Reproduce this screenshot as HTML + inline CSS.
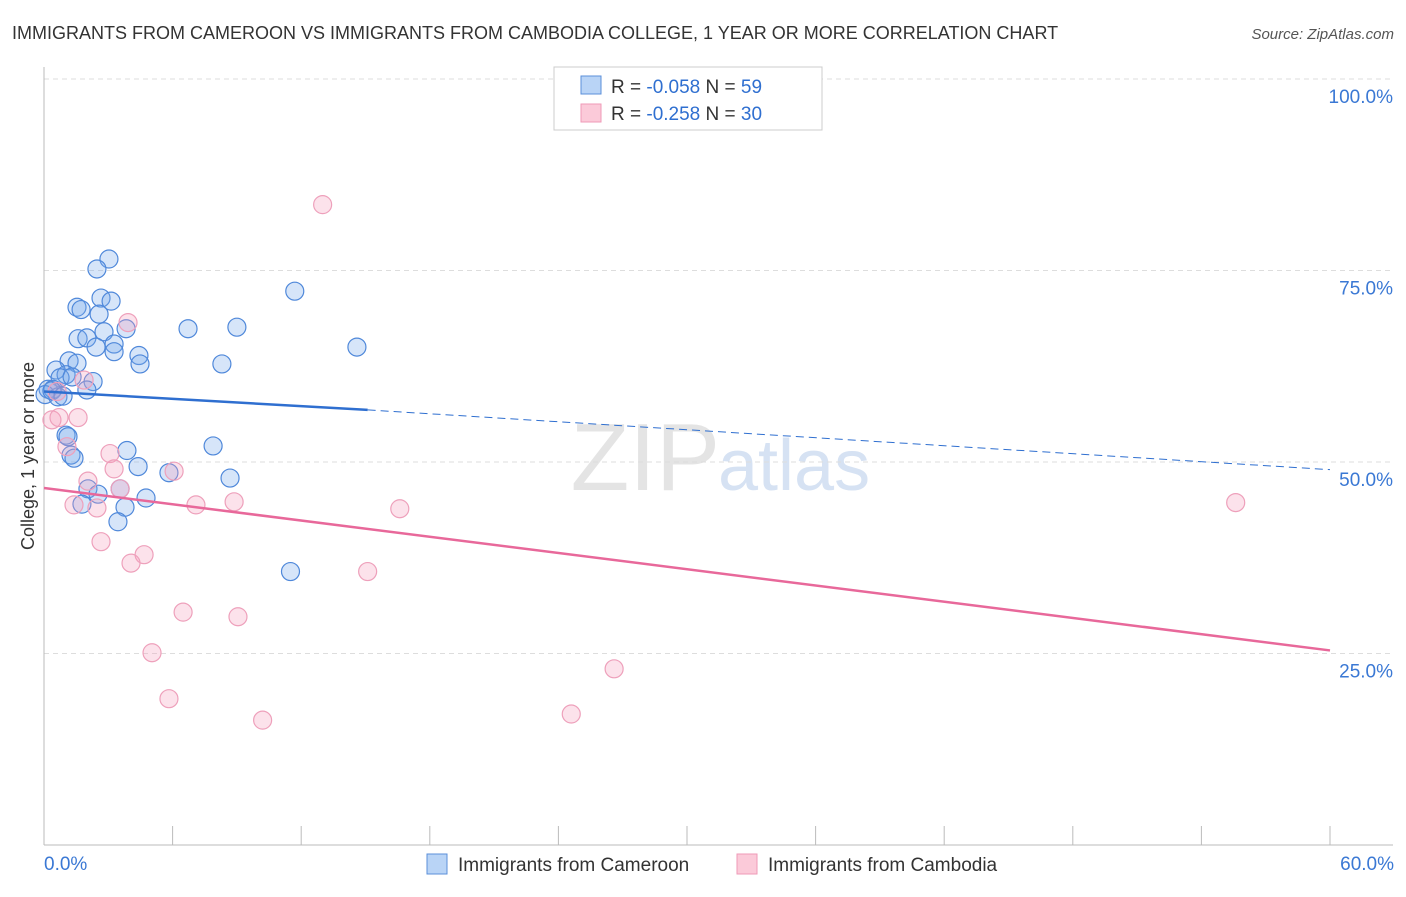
<!DOCTYPE html>
<html><head><meta charset="utf-8"><style>
body{margin:0;background:#fff;font-family:"Liberation Sans",sans-serif;}
svg text{font-family:"Liberation Sans",sans-serif;}
</style></head><body>
<svg id="chart" width="1406" height="892" xmlns="http://www.w3.org/2000/svg">
<text x="12" y="39" font-size="18" fill="#333">IMMIGRANTS FROM CAMEROON VS IMMIGRANTS FROM CAMBODIA COLLEGE, 1 YEAR OR MORE CORRELATION CHART</text>
<text x="1394" y="39" font-size="15" fill="#555" text-anchor="end" font-style="italic">Source: ZipAtlas.com</text>
<text x="720" y="490" font-size="96" fill="#e4e4e4" text-anchor="end" font-family="Liberation Serif">ZIP</text>
<text x="718" y="490" font-size="72" fill="#d6e2f3">atlas</text>
<g id="grid"></g><g id="axes"></g><g id="pts"></g><g id="lines"></g>
<text transform="translate(34,456) rotate(-90)" font-size="18" fill="#333" text-anchor="middle">College, 1 year or more</text>
<g>
<rect x="554" y="67" width="268" height="63" fill="#fff" stroke="#ccc"/>
<rect x="581" y="76" width="20" height="18" fill="#b9d4f6" stroke="#5b8fd9"/>
<rect x="581" y="104" width="20" height="18" fill="#fbcad9" stroke="#ef9ab7"/>
<text x="611" y="93" font-size="19" fill="#333">R = <tspan fill="#2f6fd0">-0.058</tspan>   N = <tspan fill="#2f6fd0">59</tspan></text>
<text x="611" y="120" font-size="19" fill="#333">R = <tspan fill="#2f6fd0">-0.258</tspan>   N = <tspan fill="#2f6fd0">30</tspan></text>
</g>
<g>
<rect x="427" y="854" width="20" height="20" fill="#b9d4f6" stroke="#5b8fd9"/>
<text x="458" y="871" font-size="19" fill="#333">Immigrants from Cameroon</text>
<rect x="737" y="854" width="20" height="20" fill="#fbcad9" stroke="#ef9ab7"/>
<text x="768" y="871" font-size="19" fill="#333">Immigrants from Cambodia</text>
</g>
</svg>
<script>
const yTicks=[100,75,50,25];
const yTickLabels=["100.0%","75.0%","50.0%","25.0%"];
const xTickLabels=["0.0%","60.0%"];
const xTicks=[0,6,12,18,24,30,36,42,48,54,60];
const cameroonX=[3.03,2.47,2.66,3.13,1.54,1.73,2.57,3.83,6.72,9.0,11.7,2.8,1.59,2.0,3.27,2.43,3.27,4.43,4.48,8.3,14.6,1.17,1.54,0.56,1.03,0.75,1.31,2.29,2.0,0.19,0.42,0.05,0.65,0.37,0.89,1.03,1.12,1.26,1.4,3.87,7.89,4.39,5.83,8.68,2.05,2.52,3.55,4.76,1.77,3.78,3.45,11.5];
const cameroonY=[76.5,75.2,71.4,71.0,70.2,69.9,69.3,67.4,67.4,67.6,72.3,67.0,66.1,66.2,65.4,65.0,64.4,63.9,62.8,62.8,65.0,63.2,62.9,62.0,61.4,61.0,61.1,60.5,59.4,59.5,59.5,58.8,58.5,59.3,58.6,53.5,53.3,50.9,50.5,51.5,52.1,49.4,48.6,47.9,46.5,45.8,46.5,45.3,44.5,44.1,42.2,35.7];
const cambodiaX=[13.0,3.92,1.87,0.61,0.37,0.7,1.59,1.07,3.08,3.27,6.07,2.05,3.55,1.4,2.47,7.09,8.87,16.6,2.66,4.67,4.06,15.1,6.49,9.05,5.04,5.83,10.2,24.6,26.6,55.6];
const cambodiaY=[83.6,68.2,60.7,59.2,55.5,55.8,55.8,52.0,51.1,49.1,48.8,47.5,46.5,44.4,44.0,44.4,44.8,43.9,39.6,37.9,36.8,35.7,30.4,29.8,25.1,19.1,16.3,17.1,23.0,44.7];
const cameroonTrend=[59.2,56.8,49.0]; const cameroonTrendX=[0,15.1,60];
const cambodiaTrend=[46.6,25.4]; const cambodiaTrendX=[0,60];
const NS="http://www.w3.org/2000/svg";
const sx=v=>44+v/60*1286, sy=v=>845-v/100*766;
function mk(t,a,p){const e=document.createElementNS(NS,t);for(const k in a)e.setAttribute(k,a[k]);document.getElementById(p).appendChild(e);return e;}
yTicks.forEach((v,i)=>{
 const l=mk('line',{x1:44,x2:1393,y1:sy(v),y2:sy(v),stroke:'#ddd','stroke-dasharray':'5,4'},'grid');
 
 
 const t=mk('text',{x:1393,y:sy(v)+24,'font-size':19,fill:'#3a78d4','text-anchor':'end'},'axes');t.textContent=yTickLabels[i];
 
 
});
const ax=mk('line',{x1:44,x2:44,y1:67,y2:845,stroke:'#bbb'},'axes');


const bx=mk('line',{x1:44,x2:1393,y1:845,y2:845,stroke:'#bbb'},'axes');


xTicks.forEach(v=>{const l=mk('line',{x1:sx(v),x2:sx(v),y1:826,y2:845,stroke:'#bbb'},'axes');
 
 });
[[0,'start',44],[60,'end',1394]].forEach((d,i)=>{const t=mk('text',{x:d[2],y:870,'font-size':19,fill:'#3a78d4','text-anchor':d[1]},'axes');t.textContent=xTickLabels[i];
 
 });
cameroonX.forEach((x,i)=>{const c=mk('circle',{cx:sx(x),cy:sy(cameroonY[i]),r:9,fill:'rgba(120,170,235,0.3)',stroke:'#4f88da','stroke-width':1.2},'pts');
 
 });
cambodiaX.forEach((x,i)=>{const c=mk('circle',{cx:sx(x),cy:sy(cambodiaY[i]),r:9,fill:'rgba(245,160,190,0.3)',stroke:'#eea0bb','stroke-width':1.2},'pts');
 
 });
const b1=mk('line',{x1:sx(cameroonTrendX[0]),y1:sy(cameroonTrend[0]),x2:sx(cameroonTrendX[1]),y2:sy(cameroonTrend[1]),stroke:'#2f6fd0','stroke-width':2.5},'lines');


const b2=mk('line',{x1:sx(cameroonTrendX[1]),y1:sy(cameroonTrend[1]),x2:sx(cameroonTrendX[2]),y2:sy(cameroonTrend[2]),stroke:'#2f6fd0','stroke-width':1,'stroke-dasharray':'8,5'},'lines');


const p1=mk('line',{x1:sx(cambodiaTrendX[0]),y1:sy(cambodiaTrend[0]),x2:sx(cambodiaTrendX[1]),y2:sy(cambodiaTrend[1]),stroke:'#e8689a','stroke-width':2.5},'lines');


</script>
</body></html>
